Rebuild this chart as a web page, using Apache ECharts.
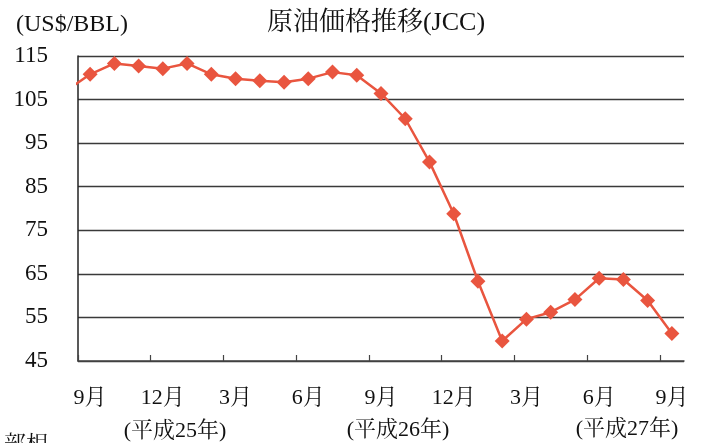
<!DOCTYPE html>
<html>
<head>
<meta charset="utf-8">
<script src="https://cdn.jsdelivr.net/npm/echarts@6/dist/echarts.min.js"></script>
<style>
html,body{margin:0;padding:0;background:#fff;}
#c{width:704px;height:443px;}
</style>
</head>
<body>
<div id="c"></div>
<script>
// Month labels (Sep 2013 .. Sep 2015)
const categories = ['9月','10月','11月','12月','1月','2月','3月','4月','5月','6月','7月','8月',
  '9月','10月','11月','12月','1月','2月','3月','4月','5月','6月','7月','8月','9月'];
// JCC price (US$/BBL); first value is the preceding month (Aug 2013), clipped at the axis edge
const priorValue = 107.0;
const prices = [110.8,113.3,112.7,112.1,113.3,110.8,109.8,109.3,109.0,109.8,111.3,110.6,
  106.4,100.6,90.7,78.8,63.3,49.6,54.6,56.2,59.1,64.0,63.7,58.9,51.3];
const yTicks = [45,55,65,75,85,95,105,115];
const yearLabels = ['(平成25年)','(平成26年)','(平成27年)'];

const base = yTicks[0];
const step = yTicks[1]-yTicks[0];
const serif = '"Liberation Serif","Noto Serif CJK JP","Noto Sans CJK JP",serif';

const seriesData = [[-0.5, priorValue-base]].concat(prices.map((v,i)=>[i+0.5, v-base]));
const tickVals = [];
for (let i = 0; i < categories.length; i += 3) tickVals.push(i);

const chart = echarts.init(document.getElementById('c'));
chart.setOption({
  animation:false,
  backgroundColor:'#fff',
  grid:{left:78,right:20,top:56,bottom:82,containLabel:false},
  xAxis:[{
    type:'category',
    data:categories,
    boundaryGap:true,
    axisLine:{lineStyle:{color:'#444',width:1.5}},
    axisTick:{show:false},
    axisLabel:{interval:2,color:'#111',fontSize:22,fontFamily:serif,margin:26},
    splitLine:{show:false}
  },{
    type:'value',
    position:'bottom',
    min:0,max:categories.length,
    axisLine:{show:false},
    axisLabel:{show:false},
    axisTick:{show:true,inside:true,length:6,customValues:tickVals,lineStyle:{color:'#444',width:1.2}},
    splitLine:{show:false}
  }],
  yAxis:{
    type:'value',
    min:0,
    max:yTicks[yTicks.length-1]-base,
    interval:step,
    axisLine:{show:true,lineStyle:{color:'#222',width:1.5}},
    axisTick:{show:false},
    axisLabel:{color:'#111',fontSize:23,fontFamily:serif,margin:30,formatter:v=>String(v+base)},
    splitLine:{show:true,lineStyle:{color:'#3a3a3a',width:1.3}}
  },
  series:[{
    type:'line',
    xAxisIndex:1,
    data:seriesData,
    clip:true,
    symbol:'diamond',
    symbolSize:15,
    showAllSymbol:true,
    lineStyle:{color:'#E9553F',width:2.5},
    itemStyle:{color:'#E9553F'}
  }],
  graphic:[
    {type:'text',x:376,y:23,style:{text:'原油価格推移(JCC)',font:'26px '+serif,fill:'#111',textAlign:'center',textVerticalAlign:'middle'}},
    {type:'text',x:16,y:25,style:{text:'(US$/BBL)',font:'24px '+serif,fill:'#111',textAlign:'left',textVerticalAlign:'middle'}},
    {type:'text',x:175,y:431,style:{text:yearLabels[0],font:'22px '+serif,fill:'#111',textAlign:'center',textVerticalAlign:'middle'}},
    {type:'text',x:398,y:430,style:{text:yearLabels[1],font:'22px '+serif,fill:'#111',textAlign:'center',textVerticalAlign:'middle'}},
    {type:'text',x:627,y:429,style:{text:yearLabels[2],font:'22px '+serif,fill:'#111',textAlign:'center',textVerticalAlign:'middle'}},
    {type:'text',x:4,y:434,style:{text:'部相',font:'22px '+serif,fill:'#111'}}
  ]
});
</script>
</body>
</html>
